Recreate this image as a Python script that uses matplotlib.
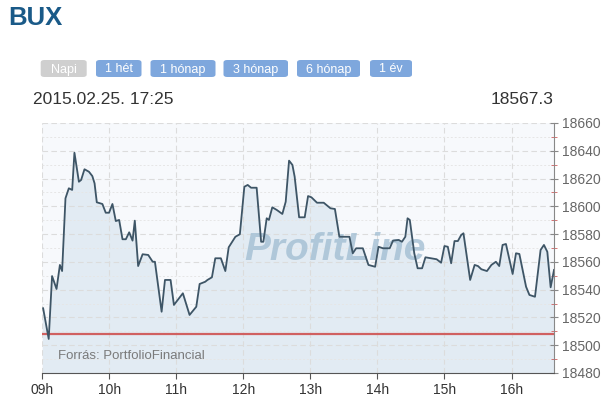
import matplotlib
matplotlib.use("Agg")
import matplotlib.pyplot as plt
import matplotlib.dates as mdates
from matplotlib.patches import FancyBboxPatch
from matplotlib.ticker import MultipleLocator
import pandas as pd

plt.rcParams['font.family'] = ['Liberation Sans', 'DejaVu Sans']

# ---- data ----
times = ["09:01", "09:06", "09:09", "09:13", "09:16", "09:18", "09:21", "09:24", "09:27", "09:29",
         "09:33", "09:35", "09:38", "09:42", "09:45", "09:47", "09:49", "09:54", "09:57", "10:00",
         "10:03", "10:06", "10:09", "10:12", "10:15", "10:18", "10:21", "10:23", "10:26", "10:30",
         "10:35", "10:39", "10:41", "10:47", "10:50", "10:55", "10:58", "11:06", "11:12", "11:18",
         "11:21", "11:26", "11:28", "11:32", "11:35", "11:40", "11:44", "11:47", "11:53", "11:57",
         "12:01", "12:04", "12:07", "12:12", "12:16", "12:18", "12:21", "12:23", "12:26", "12:30",
         "12:35", "12:38", "12:41", "12:44", "12:46", "12:50", "12:55", "12:58", "13:01", "13:06",
         "13:12", "13:18", "13:22", "13:26", "13:35", "13:38", "13:41", "13:47", "13:52", "13:58",
         "14:01", "14:05", "14:11", "14:14", "14:19", "14:22", "14:25", "14:27", "14:29", "14:33",
         "14:36", "14:40", "14:43", "14:48", "14:53", "14:57", "15:00", "15:03", "15:06", "15:09",
         "15:12", "15:15", "15:17", "15:23", "15:27", "15:30", "15:33", "15:38", "15:42", "15:46",
         "15:49", "15:52", "15:55", "16:01", "16:04", "16:07", "16:13", "16:16", "16:21", "16:26",
         "16:29", "16:32", "16:35", "16:38"]
values = [18526.6, 18504.5, 18549.8, 18540.5, 18557.8, 18553.4, 18605.8, 18613.0, 18611.8, 18638.6,
          18617.7, 18619.0, 18626.7, 18624.9, 18621.8, 18616.6, 18602.9, 18601.7, 18595.4, 18595.4,
          18601.7, 18589.4, 18590.2, 18576.3, 18576.3, 18581.3, 18575.3, 18589.7, 18557.0, 18565.5,
          18565.0, 18560.1, 18560.1, 18524.1, 18547.0, 18547.0, 18529.0, 18537.4, 18521.8, 18527.7,
          18544.1, 18545.7, 18547.0, 18548.9, 18562.6, 18562.6, 18553.4, 18570.5, 18578.1, 18579.9,
          18614.1, 18615.4, 18613.4, 18613.4, 18574.5, 18574.5, 18591.4, 18590.2, 18599.3, 18597.4,
          18594.5, 18603.3, 18632.9, 18629.8, 18621.3, 18592.1, 18592.1, 18607.4, 18606.5, 18602.6,
          18602.6, 18598.6, 18598.1, 18578.1, 18578.1, 18566.2, 18569.8, 18569.8, 18557.8, 18556.5,
          18570.9, 18569.8, 18569.8, 18575.3, 18575.8, 18574.5, 18578.1, 18591.4, 18590.2, 18566.2,
          18555.4, 18555.4, 18563.3, 18562.6, 18561.9, 18559.4, 18571.4, 18570.9, 18559.0, 18575.0,
          18575.0, 18579.4, 18580.6, 18547.0, 18557.8, 18557.0, 18554.7, 18553.4, 18557.8, 18560.1,
          18557.0, 18572.2, 18572.9, 18551.3, 18566.2, 18565.7, 18542.1, 18536.2, 18534.9, 18568.6,
          18572.2, 18567.3, 18541.7, 18554.2]
prev_close = 18508
title = "BUX"
buttons = ["Napi", "1 hét", "1 hónap", "3 hónap", "6 hónap", "1 év"]
stamp = "2015.02.25. 17:25"
last_value = "18567.3"
source = "Forrás: PortfolioFinancial"
ymin, ymax = 18480, 18660

day = "2015-02-25 "
t = pd.to_datetime([day + s for s in times])

fig = plt.figure(figsize=(6.14, 4.12), dpi=100)
W, H = 614, 412

# header
fig.text(8 / W, 1 - 18 / H, title, fontsize=18.5, fontweight='bold', color='#1a5a88', va='center')

btn_x = [(40.7, 86.7), (96, 141.5), (150.5, 215.5), (223.5, 288), (297, 360), (370, 412)]
for i, (lbl, (x0, x1)) in enumerate(zip(buttons, btn_x)):
    col = '#cfcfcf' if i == 0 else '#7ea7dd'
    box = FancyBboxPatch((x0 / W, 1 - 77 / H), (x1 - x0) / W, 17 / H,
                         boxstyle="round,pad=0,rounding_size=0.006",
                         transform=fig.transFigure, facecolor=col, edgecolor='none')
    fig.patches.append(box)
    fig.text((x0 + x1) / 2 / W, 1 - 69.5 / H, lbl, fontsize=9, color='white',
             ha='center', va='center')

fig.text(33 / W, 1 - 100 / H, stamp, fontsize=12.5, color='#333333', va='center')
fig.text(553 / W, 1 - 100 / H, last_value, fontsize=12.5, color='#333333', va='center', ha='right')

# chart
ax = fig.add_axes([42 / W, 39 / H, 512 / W, 250 / H])
ax.set_facecolor('#f7f9fc')
ax.fill_between(t, values, ymin, color='#e2ebf3', zorder=1)
ax.plot(t, values, color='#3e5566', lw=1.3, zorder=3)
ax.axhline(prev_close, color='#d06060', lw=1.6, zorder=2)

ax.set_ylim(ymin, ymax)
ax.set_xlim(pd.Timestamp(day + "09:00"), pd.Timestamp(day + "16:38"))

ax.xaxis.set_major_locator(mdates.HourLocator())
ax.xaxis.set_major_formatter(mdates.DateFormatter('%Hh'))
ax.yaxis.set_major_locator(MultipleLocator(20))
ax.yaxis.set_minor_locator(MultipleLocator(10))
ax.yaxis.tick_right()

ax.grid(True, which='major', color='#dcdcdc', ls=(0, (5, 3)), lw=0.8, zorder=0)
ax.grid(True, which='minor', axis='y', color='#e6e6e6', ls=(0, (2, 2)), lw=0.7, zorder=0)

for s in ['top', 'left']:
    ax.spines[s].set_visible(False)
ax.spines['bottom'].set_color('#555555')
ax.spines['right'].set_color('#888888')

ax.tick_params(axis='x', colors='#555555', labelcolor='#333333', labelsize=10, length=4, pad=3)
ax.tick_params(axis='y', which='major', colors='#888888', labelcolor='#666666', labelsize=10,
               length=6, direction='inout', pad=3)
ax.tick_params(axis='y', which='minor', colors='#d06060', length=4, direction='inout')

ax.text(0.572, 0.49, "ProfitLine", transform=ax.transAxes, fontsize=28, fontweight='bold',
        style='italic', color='#a3bfd3', alpha=0.8, ha='center', va='center', zorder=2)
ax.text(0.031, 0.068, source, transform=ax.transAxes, fontsize=9.5, color='#7a7a7a',
        va='center', zorder=4)

fig.savefig("out.png", dpi=100)
